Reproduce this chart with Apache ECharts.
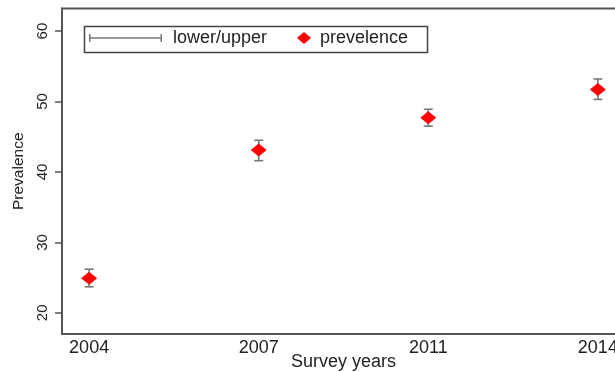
<!DOCTYPE html>
<html>
<head>
<meta charset="utf-8">
<script src="https://cdn.jsdelivr.net/npm/echarts@6/dist/echarts.min.js"></script>
<style>html,body{margin:0;padding:0;background:#fff}#c{width:615px;height:372px}</style>
</head>
<body>
<div id="c"></div>
<script>
var years = ['2004', '2007', '2011', '2014'];
var prevalence = [24.9, 43.1, 47.7, 51.7];
var lower = [23.7, 41.6, 46.5, 50.3];
var upper = [26.2, 44.5, 48.9, 53.2];
var yTicks = [20, 30, 40, 50, 60];

var FONT = 'Liberation Sans, Arial, sans-serif';
var chart = echarts.init(document.getElementById('c'));

var errData = years.map(function (y, i) { return [i, lower[i], upper[i]]; });
var ptData = years.map(function (y, i) { return [i, prevalence[i]]; });

chart.setOption({
  animation: false,
  backgroundColor: '#fff',
  grid: {
    left: 62, top: 8.5, width: 563, height: 325.5,
    outerBoundsMode: 'none', containLabel: false,
    show: true, borderColor: '#555', borderWidth: 2, backgroundColor: 'transparent'
  },
  xAxis: {
    type: 'value', min: -0.16, max: 3.16,
    splitLine: { show: false },
    axisLine: { onZero: false, lineStyle: { color: '#555', width: 2 } },
    axisTick: { show: false },
    axisLabel: {
      customValues: [0, 1, 2, 3],
      formatter: function (v) { return years[Math.round(v)]; },
      color: '#222', fontFamily: FONT, fontSize: 18, margin: 5
    },
    name: 'Survey years', nameLocation: 'middle', nameGap: 19, nameMoveOverlap: false,
    nameTextStyle: { color: '#222', fontFamily: FONT, fontSize: 18 }
  },
  yAxis: {
    type: 'value', min: 17, max: 63.2,
    splitLine: { show: false },
    axisLine: { onZero: false, lineStyle: { color: '#555', width: 2 } },
    axisTick: { customValues: yTicks, length: 7, lineStyle: { color: '#555', width: 1.5 } },
    axisLabel: {
      customValues: yTicks, rotate: 90,
      color: '#222', fontFamily: FONT, fontSize: 15, margin: 12
    },
    name: 'Prevalence', nameLocation: 'middle', nameGap: 35, nameMoveOverlap: false,
    nameTextStyle: { color: '#222', fontFamily: FONT, fontSize: 15.5 }
  },
  graphic: [{
    type: 'rect', left: 82, top: 24, z: 10,
    shape: { width: 343, height: 26 },
    style: { fill: 'none', stroke: '#444', lineWidth: 1.5 }
  }],
  legend: [{
    data: [{ name: 'lower/upper', icon: 'path://M0,0H1.5V3.25H71.5V0H73V8H71.5V4.75H1.5V8H0Z' }],
    left: 89, top: 29, padding: 0, itemWidth: 73, itemHeight: 8,
    textStyle: { fontFamily: FONT, fontSize: 18, color: '#222', padding: [0, 0, 0, 6], lineHeight: 18 }
  }, {
    data: [{ name: 'prevelence', icon: 'diamond' }],
    left: 297, top: 29, padding: 0, itemWidth: 14, itemHeight: 12,
    textStyle: { fontFamily: FONT, fontSize: 18, color: '#222', padding: [0, 0, 0, 4], lineHeight: 18 }
  }],
  series: [{
    name: 'lower/upper', type: 'custom',
    itemStyle: { color: '#777' },
    data: errData,
    encode: { x: 0, y: [1, 2] },
    renderItem: function (params, api) {
      var x = api.value(0);
      var lo = api.coord([x, api.value(1)]);
      var hi = api.coord([x, api.value(2)]);
      var hw = 4.5;
      var st = { stroke: '#777', lineWidth: 1.6 };
      return {
        type: 'group',
        children: [
          { type: 'line', shape: { x1: lo[0], y1: lo[1], x2: hi[0], y2: hi[1] }, style: st },
          { type: 'line', shape: { x1: lo[0] - hw, y1: lo[1], x2: lo[0] + hw, y2: lo[1] }, style: st },
          { type: 'line', shape: { x1: hi[0] - hw, y1: hi[1], x2: hi[0] + hw, y2: hi[1] }, style: st }
        ]
      };
    }
  }, {
    name: 'prevelence', type: 'scatter', symbol: 'diamond', symbolSize: [16, 13],
    itemStyle: { color: '#ff0000', opacity: 1 },
    data: ptData, z: 5
  }]
});
</script>
</body>
</html>
